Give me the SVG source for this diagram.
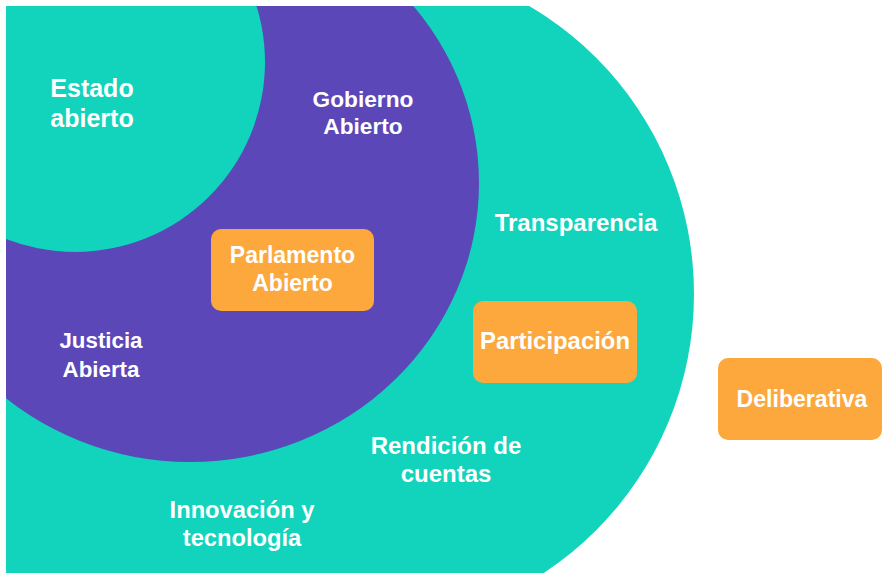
<svg xmlns="http://www.w3.org/2000/svg" width="896" height="581" viewBox="0 0 896 581">
<defs>
<clipPath id="frame"><rect x="6" y="6" width="890" height="567"/></clipPath>
<style>
.teal{fill:#12d3bc}
.purple{fill:#5b47b8}
.box{fill:#fca83c}
.lbl{font-family:"Liberation Sans",Arial,sans-serif;font-weight:700;fill:#ffffff;text-anchor:middle}
</style>
</defs>
<rect width="896" height="581" fill="#ffffff"/>
<g clip-path="url(#frame)">
<g id="outer"><circle class="teal" cx="360" cy="294" r="334"/><rect class="teal" x="6" y="6" width="360" height="567"/></g>
<g id="gobierno"><ellipse class="purple" cx="190" cy="183" rx="289" ry="279"/></g>
<g id="estado"><circle class="teal" cx="75" cy="62" r="190"/></g>
</g>
<g id="connectors"></g>
<g id="n-estado"><text class="lbl" font-size="25"><tspan x="92" y="97">Estado</tspan><tspan x="92" y="127">abierto</tspan></text></g>
<g id="n-gobierno"><text class="lbl" font-size="22.7"><tspan x="363" y="107">Gobierno</tspan><tspan x="363" y="134">Abierto</tspan></text></g>
<g id="n-parlamento"><rect class="box" x="211" y="229" width="163" height="82" rx="10"/><text class="lbl" font-size="23"><tspan x="292.5" y="263">Parlamento</tspan><tspan x="292.5" y="291">Abierto</tspan></text></g>
<g id="n-justicia"><text class="lbl" font-size="22.3"><tspan x="101" y="348">Justicia</tspan><tspan x="101" y="377">Abierta</tspan></text></g>
<g id="n-transparencia"><text class="lbl" font-size="24" x="576" y="231">Transparencia</text></g>
<g id="n-participacion"><rect class="box" x="473" y="301" width="164" height="82" rx="10"/><text class="lbl" font-size="23.9" x="555" y="349">Participación</text></g>
<g id="n-rendicion"><text class="lbl" font-size="24"><tspan x="446" y="454">Rendición de</tspan><tspan x="446" y="482">cuentas</tspan></text></g>
<g id="n-innovacion"><text class="lbl" font-size="23.7"><tspan x="242" y="518">Innovación y</tspan><tspan x="242" y="546">tecnología</tspan></text></g>
<g id="n-deliberativa"><rect class="box" x="718" y="358" width="164" height="82" rx="10"/><text class="lbl" font-size="23.1" x="802" y="407">Deliberativa</text></g>
</svg>
